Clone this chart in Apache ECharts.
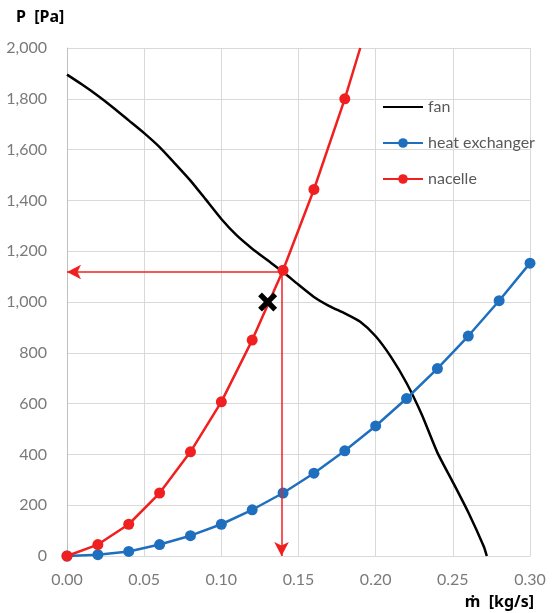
<!DOCTYPE html>
<html>
<head>
<meta charset="utf-8">
<script src="https://cdn.jsdelivr.net/npm/echarts@6/dist/echarts.min.js"></script>
<style>
html,body{margin:0;padding:0;background:#fff;}
#chart{width:554px;height:613px;}
</style>
</head>
<body>
<div id="chart"></div>
<script>
// Data
var fanFlow = [0,0.01,0.02,0.03,0.04,0.05,0.06,0.07,0.08,0.09,0.10,0.11,0.12,0.13,0.14,0.15,0.16,0.17,0.18,0.19,0.20,0.21,0.22,0.23,0.24,0.25,0.26,0.27,0.272];
var fanP =    [1895,1855,1812,1765,1715,1665,1610,1545,1478,1403,1327,1262,1210,1164,1118,1068,1020,984,955,922,865,783,681,555,407,291,172,38,0];

var hxFlow = [0,0.02,0.04,0.06,0.08,0.10,0.12,0.14,0.16,0.18,0.20,0.22,0.24,0.26,0.28,0.30];
var hxP =    [0,5,18,45,80,125,182,248,326,414,512,620,738,866,1005,1153];

var nacFlow = [0,0.02,0.04,0.06,0.08,0.10,0.12,0.14,0.16,0.18,0.19];
var nacP =    [0,45,125,248,410,607,850,1125,1443,1800,2000];

var opPoint = [0.13, 1000];
var arrowFlow = 0.139;
var arrowP = 1118;

var xTicks = {min:0, max:0.3, interval:0.05};
var yTicks = {min:0, max:2000, interval:200};

function pairs(xs, ys){ return xs.map(function(x,i){ return [x, ys[i]]; }); }

var nacData = pairs(nacFlow, nacP).map(function(p, i){
  return i === nacFlow.length - 1 ? {value:p, symbol:'none'} : p;
});

var chart = echarts.init(document.getElementById('chart'));
var labelFont = 'Lato, "Noto Sans", sans-serif';
chart.setOption({
  animation:false,
  backgroundColor:'#fff',
  grid:{left:67, right:24, top:48, bottom:57, containLabel:false},
  graphic:[
    {type:'text', left:16, top:9, style:{text:'P  [Pa]', font:'bold 16px "Noto Sans", sans-serif', fill:'#000'}},
    {type:'text', right:20, top:594, style:{text:'ṁ  [kg/s]', font:'bold 16px "Noto Sans", sans-serif', fill:'#000'}}
  ],
  legend:{
    orient:'vertical', left:377, top:94,
    itemWidth:40, itemHeight:12, itemGap:20,
    data:[
      {name:'fan', itemStyle:{color:'transparent', borderWidth:0}},
      'heat exchanger','nacelle'
    ],
    textStyle:{fontFamily:labelFont, fontSize:16, color:'#595959'}
  },
  xAxis:{
    type:'value', min:xTicks.min, max:xTicks.max, interval:xTicks.interval,
    axisLine:{show:true, lineStyle:{color:'#d9d9d9'}},
    axisTick:{show:false},
    splitLine:{show:true, lineStyle:{color:'#d9d9d9', width:1}},
    axisLabel:{formatter:function(v){return v.toFixed(2);}, color:'#7a7a7a', fontFamily:labelFont, fontSize:16, margin:16}
  },
  yAxis:{
    type:'value', min:yTicks.min, max:yTicks.max, interval:yTicks.interval,
    axisLine:{show:true, lineStyle:{color:'#bfbfbf'}},
    axisTick:{show:false},
    splitLine:{show:true, lineStyle:{color:'#d9d9d9', width:1}},
    axisLabel:{formatter:function(v){return v.toLocaleString('en-US');}, color:'#7a7a7a', fontFamily:labelFont, fontSize:16, margin:20}
  },
  series:[
    {name:'fan', type:'line', data:pairs(fanFlow, fanP), symbol:'none', smooth:0.2,
     lineStyle:{color:'#000', width:2.5, join:'round'}, itemStyle:{color:'#000'}, z:3},
    {name:'heat exchanger', type:'line', data:pairs(hxFlow, hxP), symbol:'circle', symbolSize:11,
     lineStyle:{color:'#1f6fbf', width:2.5}, itemStyle:{color:'#1f6fbf'}, z:4},
    {name:'nacelle', type:'line', data:nacData, symbol:'circle', symbolSize:11,
     lineStyle:{color:'#f02020', width:2.5}, itemStyle:{color:'#f02020'}, z:5,
     markLine:{
       silent:true, animation:false,
       label:{show:false},
       lineStyle:{color:'#f02020', width:1.5, type:'solid'},
       symbolSize:[11,14],
       data:[
         [{coord:[nacFlow[7], arrowP], symbol:'none'}, {coord:[0, arrowP], symbol:'arrow'}],
         [{coord:[arrowFlow, arrowP], symbol:'none'}, {coord:[arrowFlow, 0], symbol:'arrow'}]
       ]
     }},
    {name:'op', type:'scatter', data:[opPoint],
     symbol:'path://M4,0 L10,6 L16,0 L20,4 L14,10 L20,16 L16,20 L10,14 L4,20 L0,16 L6,10 L0,4 Z',
     symbolSize:19, itemStyle:{color:'#000', opacity:1}, z:6}
  ]
});
</script>
</body>
</html>
